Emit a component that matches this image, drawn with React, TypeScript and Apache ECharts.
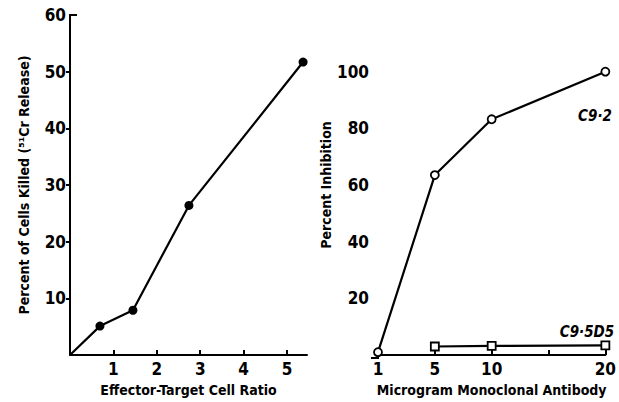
import React, { useEffect, useRef } from "react";
import * as echarts from "echarts";

const ratioX = [0, 0.69, 1.45, 2.74, 5.37];
const killedY = [0, 5.1, 7.9, 26.4, 51.7];
const ratioTicks = [1, 2, 3, 4, 5];
const killedTicks = [10, 20, 30, 40, 50, 60];

const antibodyCats = ["1", "5", "10", "15", "20"];
const c92Values: (number | null)[] = [1, 63.5, 83.2, null, 100];
const c95d5Values: (number | null)[] = [null, 3, 3.2, null, 3.4];
const inhibitionTicks = [20, 40, 60, 80, 100];

const FONT = "'Liberation Sans Narrow', 'DejaVu Sans Condensed', 'Arial Narrow', sans-serif";

export default function App() {
  const ref = useRef<HTMLDivElement>(null);
  useEffect(() => {
    document.body.style.margin = "0";
    const chart = echarts.init(ref.current!, null, { renderer: "svg" });
    const axisLine = { lineStyle: { color: "#000", width: 2 } };
    const tickLabel = { color: "#000", fontFamily: FONT, fontWeight: "bold" as const, fontSize: 17 };
    const nameStyle = { color: "#000", fontFamily: FONT, fontWeight: "bold" as const, fontSize: 14 };
    chart.setOption({
      animation: false,
      backgroundColor: "#fff",
      grid: [
        { left: 70, top: 15, width: 237, height: 342 },
        { left: 378, top: 15, width: 228, height: 343 },
      ],
      xAxis: [
        {
          gridIndex: 0,
          type: "value",
          min: 0,
          max: 5.46,
          interval: 1,
          splitLine: { show: false },
          axisLine,
          axisTick: { inside: true, length: 5, lineStyle: { color: "#000", width: 2 }, customValues: ratioTicks },
          axisLabel: { ...tickLabel, margin: 5, customValues: ratioTicks },
          name: "Effector-Target Cell Ratio",
          nameLocation: "middle",
          nameGap: 28,
          nameTextStyle: nameStyle,
        },
        {
          gridIndex: 1,
          type: "category",
          data: antibodyCats,
          boundaryGap: false,
          splitLine: { show: false },
          axisLine,
          axisTick: { inside: true, length: 5, interval: 0, lineStyle: { color: "#000", width: 2 } },
          axisLabel: {
            ...tickLabel,
            margin: 5,
            interval: 0,
            formatter: (v: string) => (v === "15" ? "" : v),
          },
          name: "Microgram Monoclonal Antibody",
          nameLocation: "middle",
          nameGap: 28,
          nameTextStyle: nameStyle,
        },
      ],
      yAxis: [
        {
          gridIndex: 0,
          type: "value",
          min: 0,
          max: 60,
          interval: 10,
          splitLine: { show: false },
          axisLine,
          axisTick: { length: 4, lineStyle: { color: "#000", width: 2 }, customValues: killedTicks.slice(0, 5) },
          axisLabel: { ...tickLabel, margin: 4, customValues: killedTicks },
          name: "Percent of Cells Killed (\u2075\u00B9Cr Release)",
          nameLocation: "middle",
          nameGap: 39,
          nameRotate: 90,
          nameTextStyle: nameStyle,
        },
        {
          gridIndex: 1,
          type: "value",
          min: 0,
          max: 120,
          interval: 20,
          offset: 6,
          splitLine: { show: false },
          axisLine,
          axisTick: { length: 4, lineStyle: { color: "#000", width: 2 }, customValues: inhibitionTicks },
          axisLabel: { ...tickLabel, margin: 3, customValues: inhibitionTicks },
          name: "Percent Inhibition",
          nameLocation: "middle",
          nameGap: 35,
          nameRotate: 90,
          nameTextStyle: nameStyle,
        },
      ],
      series: [
        {
          type: "line",
          xAxisIndex: 0,
          yAxisIndex: 0,
          data: ratioX.map((x, i) => [x, killedY[i]]),
          lineStyle: { color: "#000", width: 2.2 },
          symbol: "circle",
          symbolSize: (v: number[]) => (v[0] === 0 ? 0 : 9),
          itemStyle: { color: "#000" },
        },
        {
          type: "line",
          xAxisIndex: 1,
          yAxisIndex: 1,
          data: c92Values,
          connectNulls: true,
          lineStyle: { color: "#000", width: 2.2 },
          symbol: "circle",
          symbolSize: 8,
          itemStyle: { color: "#fff", borderColor: "#000", borderWidth: 1.8 },
          z: 3,
        },
        {
          type: "line",
          xAxisIndex: 1,
          yAxisIndex: 1,
          data: c95d5Values,
          connectNulls: true,
          lineStyle: { color: "#000", width: 2.2 },
          symbol: "rect",
          symbolSize: 8,
          itemStyle: { color: "#fff", borderColor: "#000", borderWidth: 1.8 },
          z: 3,
        },
      ],
      graphic: [
        { type: "line", shape: { x1: 371, y1: 358, x2: 379, y2: 358 }, style: { stroke: "#000", lineWidth: 2 } },
        { type: "line", shape: { x1: 69, y1: 15, x2: 77, y2: 15 }, style: { stroke: "#000", lineWidth: 2 } },
        {
          type: "text",
          x: 595,
          y: 116,
          style: {
            text: "C9\u00B72",
            fill: "#000",
            font: `italic bold 15px ${FONT}`,
            align: "center",
            verticalAlign: "middle",
          },
        },
        {
          type: "text",
          x: 587,
          y: 332,
          style: {
            text: "C9\u00B75D5",
            fill: "#000",
            font: `italic bold 15px ${FONT}`,
            align: "center",
            verticalAlign: "middle",
          },
        },
      ],
    });
    return () => chart.dispose();
  }, []);
  return <div ref={ref} style={{ width: 619, height: 402 }} />;
}
